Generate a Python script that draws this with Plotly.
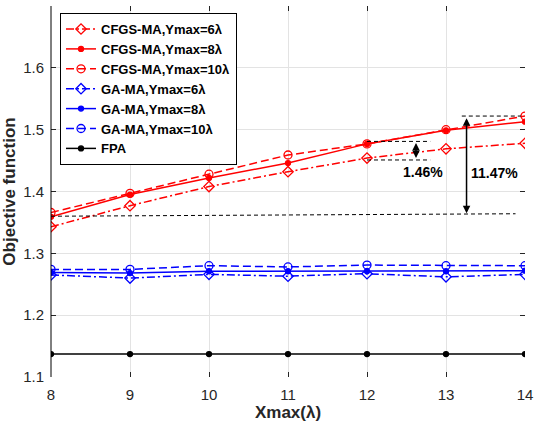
import plotly.graph_objects as go

# data
xmax = [8, 9, 10, 11, 12, 13, 14]
cfgs_y6 = [1.343, 1.377, 1.408, 1.432, 1.454, 1.469, 1.478]
cfgs_y8 = [1.359, 1.395, 1.422, 1.446, 1.477, 1.499, 1.513]
cfgs_y10 = [1.366, 1.397, 1.428, 1.459, 1.477, 1.500, 1.522]
ga_y6 = [1.265, 1.260, 1.266, 1.263, 1.267, 1.262, 1.266]
ga_y8 = [1.269, 1.268, 1.271, 1.271, 1.271, 1.271, 1.272]
ga_y10 = [1.274, 1.274, 1.280, 1.278, 1.281, 1.280, 1.280]
fpa = [1.137, 1.137, 1.137, 1.137, 1.137, 1.137, 1.137]

names = ["CFGS-MA,Ymax=6λ", "CFGS-MA,Ymax=8λ", "CFGS-MA,Ymax=10λ",
         "GA-MA,Ymax=6λ", "GA-MA,Ymax=8λ", "GA-MA,Ymax=10λ", "FPA"]

# helper lines for the gain annotations (x0, y0, x1, y1)
guide_lines = [
    (8.0, 1.360, 13.88, 1.364),
    (12.0, 1.481, 12.8, 1.481),
    (12.0, 1.451, 12.8, 1.451),
    (13.2, 1.522, 13.95, 1.522),
]
arrows = [(12.62, 1.481, 1.454), (13.26, 1.521, 1.365)]
gain_labels = [(12.71, 1.432, "1.46%"), (13.62, 1.430, "11.47%")]

FONT = "Liberation Sans, Arial, sans-serif"
DASH = "8px,4px"
DASHDOT = "8px,3px,2px,3px"

series = [
    (cfgs_y6, "red", DASHDOT, "diamond-open", 8),
    (cfgs_y8, "red", "solid", "circle", 5),
    (cfgs_y10, "red", DASH, "circle-open", 8),
    (ga_y6, "blue", DASHDOT, "diamond-open", 8),
    (ga_y8, "blue", "solid", "circle", 5),
    (ga_y10, "blue", DASH, "circle-open", 8),
    (fpa, "black", "solid", "circle", 5),
]

fig = go.Figure()
for (vals, col, dash, sym, ms), nm in zip(series, names):
    fig.add_trace(go.Scatter(
        x=xmax, y=vals, name=nm, mode="lines+markers",
        line=dict(color=col, width=1.5, dash=dash),
        marker=dict(symbol=sym, size=ms, color=col, line=dict(color=col, width=1.3)),
    ))

for x0, y0, x1, y1 in guide_lines:
    fig.add_shape(type="line", x0=x0, y0=y0, x1=x1, y1=y1,
                  line=dict(color="black", width=1, dash="4px,3px"))

for ax_x, y_top, y_bot in arrows:
    fig.add_annotation(x=ax_x, y=y_bot, ax=ax_x, ay=y_top, axref="x", ayref="y",
                       text="", showarrow=True, arrowhead=2, startarrowhead=2,
                       arrowside="end+start", arrowsize=1, arrowwidth=1.5,
                       arrowcolor="black")

for tx, ty, txt in gain_labels:
    fig.add_annotation(x=tx, y=ty, text="<b>%s</b>" % txt, showarrow=False,
                       font=dict(family=FONT, size=14, color="black"))

# left axis line only (as in the reference)
fig.add_shape(type="line", xref="paper", yref="paper", x0=0, x1=0, y0=0, y1=1,
              line=dict(color="black", width=1))

fig.update_layout(
    width=534, height=426,
    margin=dict(l=51, r=9, t=6, b=49),
    plot_bgcolor="white", paper_bgcolor="white",
    font=dict(family=FONT, size=15, color="#262626"),
    legend=dict(x=0.019, y=0.981, xanchor="left", yanchor="top",
                bgcolor="white", bordercolor="black", borderwidth=1,
                font=dict(family=FONT, size=13, color="black", weight="bold"),
                tracegroupgap=0, itemwidth=30),
    xaxis=dict(range=[8, 14], dtick=1, showgrid=True, gridcolor="#e3e3e3",
               zeroline=False, showline=False, ticks="inside", ticklen=5,
               tickcolor="#262626", mirror="ticks", automargin=False,
               tickfont=dict(size=15), ticklabelstandoff=7,
               title=dict(text="<b>Xmax(λ)</b>", standoff=2,
                          font=dict(size=17, color="#262626"))),
    yaxis=dict(range=[1.1, 1.7], dtick=0.1, tickformat=".1f", showgrid=True,
               gridcolor="#e3e3e3", zeroline=False, showline=False,
               ticks="inside", ticklen=5, tickcolor="#262626", mirror="ticks",
               ticklabelstandoff=6, automargin=False, tickfont=dict(size=15),
               title=dict(text="<b>Objective function</b>", standoff=4,
                          font=dict(size=17, color="#262626"))),
)

fig.write_html("out.html", config={"displayModeBar": False},
               post_script="document.body.style.margin='0';")
